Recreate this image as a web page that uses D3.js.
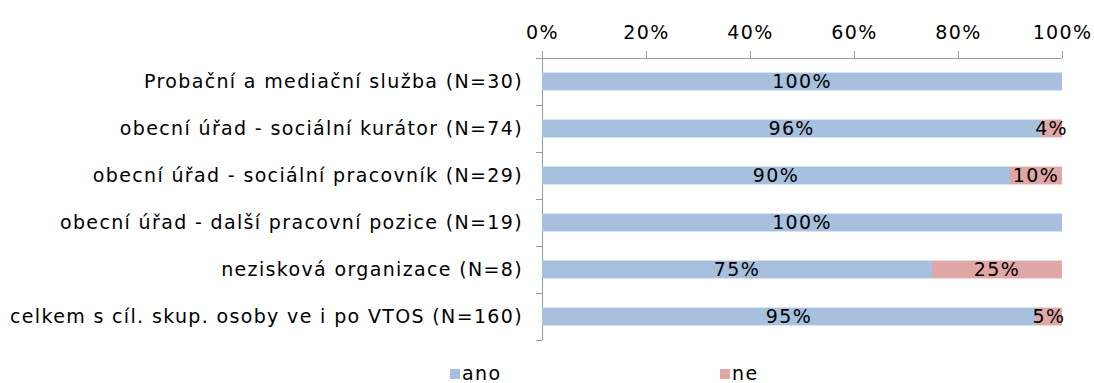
<!DOCTYPE html>
<html>
<head>
<meta charset="utf-8">
<script src="https://cdn.jsdelivr.net/npm/d3@7"></script>
<style>
  html, body { margin: 0; padding: 0; background: #fff; }
  svg { display: block; font-family: "DejaVu Sans", Verdana, sans-serif; }
  svg text { letter-spacing: 1.35px; }
</style>
</head>
<body>
<svg id="chart" width="1094" height="383"></svg>
<script>
const categories = [
  "Probační a mediační služba (N=30)",
  "obecní úřad - sociální kurátor (N=74)",
  "obecní úřad - sociální pracovník (N=29)",
  "obecní úřad - další pracovní pozice (N=19)",
  "nezisková organizace (N=8)",
  "celkem s cíl. skup. osoby ve i po VTOS (N=160)"
];
const seriesNames = ["ano", "ne"];
const ano = [100, 96, 90, 100, 75, 95];
const ne  = [0, 4, 10, 0, 25, 5];
const tickValues = [0, 20, 40, 60, 80, 100];
const colors = ["#a7c0de", "#dfa7a6"];

const svg = d3.select("#chart");
const margin = { left: 542, right: 32, top: 58, bottom: 43 };
const W = 1094, H = 383;
const fs = 19;

const x = d3.scaleLinear().domain([0, 100]).range([margin.left, W - margin.right]);
const y = d3.scaleBand().domain(categories).range([margin.top, H - margin.bottom]).paddingInner(0.62).paddingOuter(0.31);
const yOuter = d3.scaleBand().domain(categories).range([margin.top, H - margin.bottom]);

const axisColor = "#9a9a9a";

// top axis
const xAxis = d3.axisTop(x).tickValues(tickValues).tickFormat(d => d + "%").tickSize(7).tickSizeOuter(0);
const gx = svg.append("g").attr("transform", `translate(0,${margin.top})`).call(xAxis);
gx.select(".domain").remove();
gx.selectAll(".tick line").attr("stroke", axisColor);
gx.selectAll(".tick text").attr("font-size", fs).attr("font-family", "DejaVu Sans, sans-serif")
  .attr("fill", "#000").attr("dy", "-0.5em");
svg.append("line").attr("x1", margin.left - 6).attr("x2", x(100))
  .attr("y1", margin.top + 0.5).attr("y2", margin.top + 0.5).attr("stroke", axisColor);

// left axis with boundary ticks
const y0 = margin.top, y1 = H - margin.bottom;
svg.append("line").attr("x1", margin.left + 0.5).attr("x2", margin.left + 0.5)
  .attr("y1", y0).attr("y2", y1).attr("stroke", axisColor);
const bounds = categories.map(c => yOuter(c) + yOuter.bandwidth());
svg.selectAll(".ytick").data(bounds).join("line")
  .attr("x1", margin.left - 6).attr("x2", margin.left)
  .attr("y1", d => Math.round(d) + 0.5).attr("y2", d => Math.round(d) + 0.5)
  .attr("stroke", axisColor);

// category labels
svg.selectAll(".cat").data(categories).join("text")
  .attr("x", margin.left - 19)
  .attr("y", d => yOuter(d) + yOuter.bandwidth() / 2)
  .attr("dy", "0.35em")
  .attr("text-anchor", "end")
  .attr("font-size", fs)
  .text(d => d);

// stacked bars
const rows = categories.map((c, i) => ({ cat: c, ano: ano[i], ne: ne[i] }));
const stacked = d3.stack().keys(seriesNames)(rows);
stacked.forEach((layer, li) => {
  const g = svg.append("g");
  g.selectAll("rect").data(layer).join("rect")
    .attr("x", d => x(d[0]))
    .attr("width", d => x(d[1]) - x(d[0]))
    .attr("y", d => y(d.data.cat))
    .attr("height", y.bandwidth())
    .attr("fill", colors[li]);
  g.selectAll("text").data(layer.filter(d => d[1] - d[0] > 0)).join("text")
    .attr("x", d => (x(d[0]) + x(d[1])) / 2)
    .attr("y", d => y(d.data.cat) + y.bandwidth() / 2)
    .attr("dy", "0.36em")
    .attr("text-anchor", "middle")
    .attr("font-size", fs)
    .text(d => (d[1] - d[0]) + "%");
});

// legend
const legendX = [450, 720];
const lg = svg.selectAll(".legend").data(seriesNames).join("g")
  .attr("transform", (d, i) => `translate(${legendX[i]},369)`);
lg.append("rect").attr("width", 10).attr("height", 10).attr("fill", (d, i) => colors[i]);
lg.append("text").attr("x", 12).attr("y", 11).attr("font-size", fs).text(d => d);
</script>
</body>
</html>
